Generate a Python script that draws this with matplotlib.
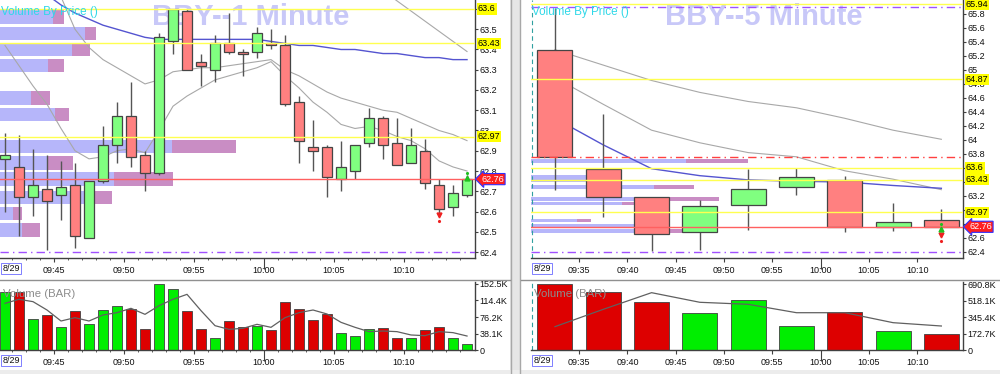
import numpy as np
import matplotlib.pyplot as plt
from matplotlib.patches import Rectangle
from matplotlib.lines import Line2D
from matplotlib.transforms import offset_copy

plt.rcParams['font.family'] = ['Liberation Sans', 'DejaVu Sans']  # fonte parecida com Arial

nan = np.nan

# Dados do grafico de 1 minuto (BBY, barras de 09:41 a 10:14)
m1_inicio = 9 * 60 + 41
m1_abertura = [62.86, 62.82, 62.67, 62.71, 62.68, 62.73, 62.47, 62.75, 62.93, 63.07,
               62.88, 62.79, 63.44, 63.59, 63.34, 63.30, 63.43, 63.39, 63.39, 63.43,
               63.42, 63.14, 62.92, 62.92, 62.76, 62.80, 62.94, 63.06, 62.94, 62.84,
               62.90, 62.73, 62.62, 62.68]
m1_maxima = [62.99, 62.98, 62.91, 62.88, 62.85, 62.84, 62.75, 63.02, 63.14, 63.24,
             62.90, 63.48, 63.60, 63.60, 63.38, 63.47, 63.58, 63.40, 63.51, 63.50,
             63.47, 63.17, 63.05, 62.93, 62.95, 62.93, 63.11, 63.07, 63.06, 63.01,
             62.96, 62.76, 62.73, 62.78]
m1_minima = [62.60, 62.48, 62.58, 62.41, 62.56, 62.42, 62.47, 62.74, 62.84, 62.82,
             62.70, 62.78, 63.38, 63.30, 63.22, 63.24, 63.38, 63.27, 63.36, 63.40,
             63.12, 62.84, 62.80, 62.67, 62.70, 62.76, 62.92, 62.86, 62.83, 62.84,
             62.71, 62.59, 62.58, 62.67]
m1_fechamento = [62.88, 62.67, 62.73, 62.65, 62.72, 62.48, 62.75, 62.93, 63.07, 62.87,
                 62.79, 63.46, 63.60, 63.30, 63.32, 63.43, 63.39, 63.38, 63.48, 63.42,
                 63.13, 62.95, 62.90, 62.77, 62.82, 62.93, 63.06, 62.93, 62.83, 62.93,
                 62.74, 62.61, 62.69, 62.76]
m1_volume = [133, 135, 70.9, 80.1, 52.4, 90.1, 59.3, 93.2, 101.7, 95.5,
             47.8, 152.5, 140.2, 90.1, 49.3, 26.9, 67.0, 53.9, 55.5, 46.2,
             110.9, 94.7, 69.3, 82.4, 38.5, 32.3, 49.3, 51.6, 26.9, 26.9,
             46.2, 52.4, 26.9, 13.9]  # milhares de acoes
m1_volume_media = [107.8, 117.1, 111.7, 92.4, 67.0, 74.7, 67.0, 80.9, 86.3, 96.3,
                   82.4, 102.4, 117.1, 128.6, 90.9, 56.2, 47.7, 50.1, 59.3, 52.4,
                   74.7, 86.3, 92.4, 83.2, 63.9, 52.4, 42.4, 43.9, 42.4, 34.7,
                   33.1, 42.4, 40.1, 32.3]
m1_media_azul = [nan, nan, nan, 63.67, 63.62, 63.58, 63.55, 63.52, 63.50, 63.48,
                 63.46, 63.45, 63.45, 63.45, 63.45, 63.45, 63.45, 63.45, 63.45, 63.44,
                 63.43, 63.42, 63.42, 63.41, 63.40, 63.40, 63.39, 63.38, 63.38, 63.37,
                 63.36, 63.36, 63.35, 63.35]
m1_media_cinza_a = [nan, nan, nan, 63.80, 63.66, 63.50, 63.41, 63.35, 63.31, 63.27,
                    63.23, 63.25, 63.29, 63.30, 63.31, 63.31, 63.32, 63.33, 63.34, 63.35,
                    63.30, 63.27, 63.23, 63.19, 63.16, 63.14, 63.12, 63.10, 63.09, 63.06,
                    63.03, 63.00, 62.98, 62.95]
m1_media_cinza_b = [63.42, 63.32, 63.22, 63.13, 63.01, 62.90, 62.86, 62.87, 62.90, 62.91,
                    62.89, 63.00, 63.12, 63.17, 63.21, 63.25, 63.27, 63.29, 63.31, 63.34,
                    63.27, 63.21, 63.14, 63.09, 63.03, 63.01, 63.02, 63.00, 62.97, 62.95,
                    62.91, 62.85, 62.82, 62.80]
m1_media_cinza_c = [nan] * 27 + [63.69, 63.64, 63.59, 63.54, 63.49, 63.44, 63.39]
m1_vbp_preco = [63.56, 63.48, 63.40, 63.32, 63.16, 63.08, 62.92, 62.84, 62.76, 62.67, 62.59, 62.51]
m1_vbp_compra = [122, 196, 166, 110, 71, 127, 396, 108, 262, 216, 30, 51]
m1_vbp_venda = [25, 25, 41, 37, 44, 32, 147, 60, 136, 41, 21, 41]
m1_niveis_amarelos = [63.6, 63.43, 62.97]
m1_niveis_roxos = [62.40]
m1_niveis_vermelhos_tracejados = []
m1_sinal_indice = [31, 33]
m1_sinal_preco = [62.585, 62.765]
m1_sinal_tipo = ['venda', 'compra']

# Dados do grafico de 5 minutos (barras de 09:30 a 10:10)
m5_inicio = 9 * 60 + 30
m5_abertura = [65.28, 63.59, 63.18, 62.68, 63.07, 63.33, 63.43, 62.75, 62.86]
m5_maxima = [65.88, 64.37, 63.19, 63.14, 63.58, 63.60, 63.49, 63.10, 63.01]
m5_minima = [63.29, 62.90, 62.42, 62.43, 62.71, 63.22, 62.68, 62.70, 62.74]
m5_fechamento = [63.76, 63.19, 62.66, 63.06, 63.30, 63.47, 62.76, 62.83, 62.76]
m5_volume = [690.8, 603.9, 499.3, 390.4, 523.3, 251.2, 400.9, 195.7, 167.5]
m5_volume_media = [244.3, 425.7, 600.0, 499.3, 478.3, 390.4, 390.4, 286.0, 251.2]
m5_media_azul = [64.31, 63.93, 63.59, 63.49, 63.43, 63.41, 63.40, 63.35, 63.31]
m5_media_cinza_a = [65.29, 65.07, 64.85, 64.68, 64.55, 64.46, 64.31, 64.14, 64.01]
m5_media_cinza_b = [64.89, 64.51, 64.14, 63.96, 63.82, 63.76, 63.56, 63.44, 63.29]
m5_vbp_preco = [63.70, 63.48, 63.43, 63.33, 63.16, 63.09, 62.85, 62.77, 62.70]
m5_vbp_compra = [512, 231, 182, 406, 459, 300, 152, 343, 459]
m5_vbp_venda = [205, 0, 0, 132, 162, 43, 46, 0, 53]
m5_niveis_amarelos = [65.94, 64.87, 63.6, 63.43, 62.97]
m5_niveis_roxos = [65.90, 62.40]
m5_niveis_vermelhos_tracejados = [63.76]
m5_sinal_indice = [8, 8]
m5_sinal_preco = [62.64, 62.735]
m5_sinal_tipo = ['venda', 'compra']

ultimo_preco = 62.76
data_sessao = '8/29'

# Posicoes em minutos do dia (centro de cada barra)
x1 = m1_inicio + np.arange(len(m1_abertura)) + 0.5
x5 = m5_inicio + 5 * np.arange(len(m5_abertura)) + 2.5

W, H = 1000, 374
fig = plt.figure(figsize=(W / 100, H / 100), dpi=100)


def caixa(x0, y0, x1_, y1_):  # retangulo em pixels -> coordenadas da figura
    return [x0 / W, 1 - y1_ / H, (x1_ - x0) / W, (y1_ - y0) / H]


def texto_hora(m):
    return f'{m // 60:02d}:{m % 60:02d}'


def desenhar_candles(ax, x, abertura, maxima, minima, fechamento, largura):
    abertura = np.array(abertura)
    fechamento = np.array(fechamento)
    sobe = fechamento >= abertura
    cores = np.where(sobe, '#80ff80', '#ff8080')
    ax.vlines(x, minima, maxima, color='#555555', lw=1, zorder=3)
    corpo = np.maximum(np.abs(fechamento - abertura), 0.008)
    base = np.minimum(abertura, fechamento)
    ax.bar(x, corpo, bottom=base, width=largura, color=cores, edgecolor='#454545', lw=0.9, zorder=4)
    return sobe


def desenhar_vbp(ax, preco, compra, venda, altura, xmax, ylim):
    ax.barh(preco, compra, height=altura, color='#b6b6fa', lw=0)
    ax.barh(preco, venda, left=compra, height=altura, color='#c98dc4', lw=0)
    ax.set_xlim(0, xmax)
    ax.set_ylim(ylim)
    ax.axis('off')


def estilo_spines(ax):
    for lado in ['left', 'top']:
        ax.spines[lado].set_visible(False)
    for lado in ['right', 'bottom']:
        ax.spines[lado].set_color('#404040')
        ax.spines[lado].set_linewidth(1)


def eixo_x(ax, xlim, maiores, menores, longo):
    ax.set_xlim(xlim)
    ax.set_xticks(maiores)
    ax.set_xticklabels([texto_hora(m) for m in maiores])
    ax.set_xticks(menores, minor=True)
    ax.tick_params(axis='x', which='major', length=3, pad=2.6, labelsize=6.5, color='#404040', labelcolor='#111111')
    ax.tick_params(axis='x', which='minor', length=1.5, color='#404040')
    for m, t in zip(maiores, ax.xaxis.get_major_ticks()):
        if m == longo:
            t.tick1line.set_markersize(8)  # marca mais longa na hora cheia
    ax.annotate(data_sessao, xy=(0, 0), xycoords='axes fraction', xytext=(1.8, -4.6), textcoords='offset points',
                ha='left', va='top', fontsize=6.5, color='#111111',
                bbox=dict(boxstyle='square,pad=0.12', fc='none', ec='#6a6aff', lw=0.6))


def eixo_y(ax, ylim, ticks, rotulos):
    ax.set_ylim(ylim)
    ax.yaxis.tick_right()
    ax.set_yticks(ticks)
    ax.set_yticklabels(rotulos)
    ax.tick_params(axis='y', length=2, pad=1, labelsize=6.5, color='#404040', labelcolor='#111111')


def rotulo_nivel(ax, preco, fundo, cor_texto='#000000', borda='none', estilo='square,pad=0.12', desloc=2.0):
    ax.annotate(f'{preco:g}', xy=(1, preco), xycoords=('axes fraction', 'data'), xytext=(desloc, 0),
                textcoords='offset points', ha='left', va='center', fontsize=6.5, color=cor_texto,
                zorder=9, annotation_clip=False, bbox=dict(boxstyle=estilo, fc=fundo, ec=borda, lw=0.8))


def painel_precos(rect, x, o, h, l, c, largura, xlim, ylim, ticks_y, medias, vbp, vbp_altura, vbp_max,
                  amarelos, roxos, vermelhos_tr, sinais, titulo, titulo_x, maiores, menores):
    ax_vbp = fig.add_axes(rect, zorder=0)
    desenhar_vbp(ax_vbp, *vbp, vbp_altura, vbp_max, ylim)
    ax = fig.add_axes(rect, zorder=1)
    ax.patch.set_visible(False)
    # titulo grande ao fundo
    ax.text(titulo_x, 0.903, titulo, transform=ax.transAxes, fontsize=21, fontweight='bold',
            color='#c8c8f8', ha='left', va='baseline', zorder=1)
    # medias moveis
    for valores, cor, lw in medias:
        ax.plot(x, valores, color=cor, lw=lw, zorder=2)
    sobe = desenhar_candles(ax, x, o, h, l, c, largura)
    # linhas de nivel
    for p in amarelos:
        ax.axhline(p, color='#ffff50', lw=1, zorder=5)
    for p in roxos:
        ax.axhline(p, color='#a050ff', lw=1, ls=(0, (6, 3, 1, 3)), zorder=5)
    for p in vermelhos_tr:
        ax.axhline(p, color='#ff4040', lw=1, ls=(0, (6, 3, 1, 3)), zorder=5)
    ax.axhline(ultimo_preco, color='#ff6060', lw=1, zorder=5)
    # sinais de compra / venda
    for i, p, tipo in zip(*sinais):
        if tipo == 'venda':
            ax.plot(x[i], p, marker='v', color='#ee2020', ms=3.5, zorder=6)
            ax.plot(x[i], p, marker='.', color='#ee2020', ms=2.5, zorder=6,
                    transform=offset_copy(ax.transData, fig=fig, y=-6, units='dots'))
        else:
            ax.plot(x[i], p, marker='^', color='#20c020', ms=3.5, zorder=6)
            ax.plot(x[i], p, marker='.', color='#20c020', ms=2.5, zorder=6,
                    transform=offset_copy(ax.transData, fig=fig, y=5, units='dots'))
    ax.text(0.003, 0.94, 'Volume By Price ()', transform=ax.transAxes, fontsize=8.4,
            color='#30d8e8', ha='left', va='baseline', zorder=8)
    eixo_x(ax, xlim, maiores, menores, 600)
    # rotulo da escala escondido quando ja existe a caixa destacada com o mesmo valor
    rotulos_y = ['' if any(abs(t - p) < 1e-6 for p in amarelos) else f'{t:g}' for t in ticks_y]
    eixo_y(ax, ylim, ticks_y, rotulos_y)
    estilo_spines(ax)
    for p in amarelos:
        rotulo_nivel(ax, p, '#ffff00')
    rotulo_nivel(ax, ultimo_preco, '#ff2020', cor_texto='white', borda='#3030ff',
                 estilo='larrow,pad=0.12', desloc=4.5)
    return ax, sobe


def painel_volume(rect, x, volume, media, sobe, largura, xlim, ylim, ticks, rotulos, maiores, menores):
    ax = fig.add_axes(rect)
    cores = np.where(sobe, '#00ee00', '#dd0000')
    ax.bar(x, volume, width=largura, color=cores, edgecolor='#404040', lw=0.6, zorder=2)
    ax.plot(x, media, color='#606060', lw=0.9, zorder=3)
    ax.text(0.006, 0.77, 'Volume (BAR)', transform=ax.transAxes, fontsize=8.2,
            color='#8c8c8c', ha='left', va='baseline', zorder=4)
    eixo_x(ax, xlim, maiores, menores, 600)
    eixo_y(ax, ylim, ticks, rotulos)
    estilo_spines(ax)
    return ax


# Painel esquerdo: 1 minuto
ylim1 = (62.3704, 63.6444)
xlim1 = (581.143, 615.07)
maiores1 = list(range(585, 611, 5))
menores1 = [m for m in range(582, 615) if m % 5 != 0]
ax1, sobe1 = painel_precos(
    caixa(0, 0, 475, 258), x1, m1_abertura, m1_maxima, m1_minima, m1_fechamento, 0.71, xlim1, ylim1,
    [round(v, 1) for v in np.arange(62.4, 63.65, 0.1)],
    [(m1_media_cinza_c, '#a8a8a8', 0.8), (m1_media_cinza_a, '#a8a8a8', 0.8),
     (m1_media_cinza_b, '#a8a8a8', 0.8), (m1_media_azul, '#5454d0', 1.0)],
    (m1_vbp_preco, m1_vbp_compra, m1_vbp_venda), 0.067, 1092,
    m1_niveis_amarelos, m1_niveis_roxos, m1_niveis_vermelhos_tracejados,
    (m1_sinal_indice, m1_sinal_preco, m1_sinal_tipo), 'BBY--1 Minute', 152 / 475, maiores1, menores1)

painel_volume(caixa(0, 281.7, 475, 350), x1, m1_volume, m1_volume_media, sobe1, 0.71, xlim1, (0, 157.8),
              [0, 38.1, 76.2, 114.4, 152.5], ['0', '38.1K', '76.2K', '114.4K', '152.5K'], maiores1, menores1)

# Painel direito: 5 minutos
ylim5 = (62.314, 66.0)
xlim5 = (570.02, 614.74)
maiores5 = list(range(575, 611, 5))
ax5, sobe5 = painel_precos(
    caixa(531, 0, 963, 258), x5, m5_abertura, m5_maxima, m5_minima, m5_fechamento, 3.62, xlim5, ylim5,
    [round(v, 1) for v in np.arange(62.4, 65.85, 0.2)],
    [(m5_media_cinza_a, '#a8a8a8', 0.8), (m5_media_cinza_b, '#a8a8a8', 0.8), (m5_media_azul, '#5454d0', 1.0)],
    (m5_vbp_preco, m5_vbp_compra, m5_vbp_venda), 0.05, 1425,
    m5_niveis_amarelos, m5_niveis_roxos, m5_niveis_vermelhos_tracejados,
    (m5_sinal_indice, m5_sinal_preco, m5_sinal_tipo), 'BBY--5 Minute', (665 - 531) / 432, maiores5, [])
ax5.axvline(570.15, color='#30a0a0', lw=0.8, ls=(0, (4, 3)), zorder=2)  # inicio da sessao

ax5v = painel_volume(caixa(531, 281.7, 963, 350), x5, m5_volume, m5_volume_media, sobe5, 3.62, xlim5, (0, 714.9),
                     [0, 172.7, 345.4, 518.1, 690.8], ['0', '172.7K', '345.4K', '518.1K', '690.8K'], maiores5, [])
ax5v.axvline(570.15, color='#30a0a0', lw=0.8, ls=(0, (4, 3)), zorder=1)

# Separadores da janela
fig.add_artist(Rectangle((510 / W, 0), 11 / W, 1, transform=fig.transFigure, fc='#e6e6e6', ec='none'))
for xs in [511, 520]:
    fig.add_artist(Line2D([xs / W, xs / W], [0, 1], transform=fig.transFigure, color='#a8a8a8', lw=1))
for xa, xb in [(0, 510), (521, 1000)]:
    fig.add_artist(Line2D([xa / W, xb / W], [1 - 280 / H] * 2, transform=fig.transFigure, color='#909090', lw=1))
fig.add_artist(Rectangle((0, 0), 1, 4 / H, transform=fig.transFigure, fc='#ececec', ec='none'))

fig.savefig('out.png', dpi=100)
